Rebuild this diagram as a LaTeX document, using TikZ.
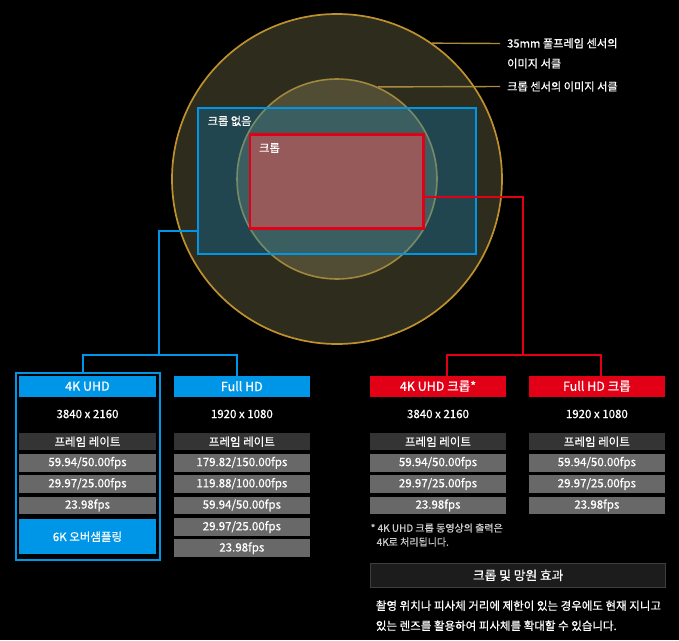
\documentclass[tikz,border=0pt]{standalone}
\usepackage{fontspec}
\setmainfont{Noto Sans CJK KR}[FakeBold=0.6]
\begin{document}
\begin{tikzpicture}[x=1pt,y=-1pt,
  fs/.style={font=\fontsize{#1}{#1}\selectfont},
  gold/.style={draw={rgb,255:red,190;green,145;blue,45}},
  hdr/.style={minimum width=136.4pt,minimum height=21pt,inner sep=0pt,text=white,fs=12.5},
  hblue/.style={hdr,fill=skyb},
  hred/.style={hdr,fill=crimson},
  res/.style={text=white,fs=11.5,inner sep=0pt},
  frate/.style={minimum width=136.4pt,minimum height=16.7pt,inner sep=0pt,fill={rgb,255:red,52;green,52;blue,52},text=white,fs=11.5},
  fps/.style={minimum width=136.4pt,minimum height=17.5pt,inner sep=0pt,fill={rgb,255:red,104;green,104;blue,104},text=white,fs=11.5},
  lbl/.style={text=white,fs=11.2,inner sep=0pt,anchor=west},
  bconn/.style={draw=skyb,line width=2pt},
  rconn/.style={draw=crimson,line width=2pt},
  lead/.style={draw={rgb,255:red,170;green,138;blue,60},line width=1.4pt},
]
\definecolor{skyb}{RGB}{0,150,232}
\definecolor{crimson}{RGB}{225,0,22}
\useasboundingbox[fill=black] (0,0) rectangle (679,640);

% circles
\node[circle,gold,line width=1.7pt,fill={rgb,255:red,46;green,44;blue,29},minimum size=330pt,inner sep=0pt] (outer) at (337,179) {};
\node[circle,draw={rgb,255:red,160;green,135;blue,62},line width=1.6pt,fill={rgb,255:red,80;green,77;blue,52},minimum size=200pt,inner sep=0pt] (inner) at (337,179) {};

% blue rect (no crop)
\node[draw=skyb,line width=2.6pt,fill=skyb,fill opacity=0.25,draw opacity=1,minimum width=278pt,minimum height=146pt,inner sep=0pt] (blue) at (337,181) {};
% red rect (crop)
\node[draw=crimson,line width=2.6pt,fill={rgb,255:red,150;green,90;blue,90},minimum width=173.3pt,minimum height=94pt,inner sep=0pt] (red) at (336.7,181.3) {};

\node[lbl] (tnocrop) at (207.5,121) {크롭 없음};
\node[lbl] (tcrop) at (259,148) {크롭};

% leader labels
\coordinate (l1) at (500,43.5);
\coordinate (l2) at (500,86.5);
\draw[lead] (outer.55.6) -- (l1);
\draw[lead] (inner.66.7) -- (l2);
\node[lbl] (t35a) at (507,43.3) {35mm 풀프레임 센서의};
\node[lbl] (t35b) at (507,63.5) {이미지 서클};
\node[lbl] (tcs) at (507,86.5) {크롭 센서의 이미지 서클};

% column frame
\node[draw=skyb,line width=2pt,minimum width=144pt,minimum height=187pt,inner sep=0pt] (frame) at (88,372) [anchor=north] {};

% headers
\node[hblue] (h1) at (87.5,386.2) {4K UHD};
\node[hblue] (h2) at (241.85,386.2) {Full HD};
\node[hred] (h3) at (438,386.2) {4K UHD 크롭*};
\node[hred] (h4) at (596.85,386.2) {Full HD 크롭};

% blue connectors
\coordinate (bb) at (159,231);
\coordinate (bj) at (159,355);
\coordinate (bl) at (83,355);
\coordinate (br) at (237,355);
\draw[bconn] (blue.west |- bb) -- (bb) -- (bj);
\draw[bconn] (bl |- frame.north) -- (bl) -- (br) -- (br |- h2.north);

% red connectors
\coordinate (rr) at (523,197);
\coordinate (rj) at (523,355);
\coordinate (rl) at (447,355);
\coordinate (rrr) at (601,355);
\draw[rconn] (red.east |- rr) -- (rr) -- (rj);
\draw[rconn] (rl |- h3.north) -- (rl) -- (rrr) -- (rrr |- h4.north);

% resolutions
\node[res] (r1) at (87.5,414) {3840 x 2160};
\node[res] (r2) at (241.85,414) {1920 x 1080};
\node[res] (r3) at (438,414) {3840 x 2160};
\node[res] (r4) at (596.85,414) {1920 x 1080};

% frame rate headers
\node[frate] (f1) at (87.5,441.7) {프레임 레이트};
\node[frate] (f2) at (241.85,441.7) {프레임 레이트};
\node[frate] (f3) at (438,441.7) {프레임 레이트};
\node[frate] (f4) at (596.85,441.7) {프레임 레이트};

% col 1
\node[fps] (c1a) at (87.5,462.8) {59.94/50.00fps};
\node[fps] (c1b) at (87.5,484) {29.97/25.00fps};
\node[fps] (c1c) at (87.5,505.3) {23.98fps};
\node[minimum width=136.4pt,minimum height=35.3pt,inner sep=0pt,fill=skyb,text=white,fs=11.5] (c1d) at (87.5,536.7) {6K 오버샘플링};
% col 2
\node[fps] (c2a) at (241.85,462.8) {179.82/150.00fps};
\node[fps] (c2b) at (241.85,484) {119.88/100.00fps};
\node[fps] (c2c) at (241.85,505.3) {59.94/50.00fps};
\node[fps] (c2d) at (241.85,527) {29.97/25.00fps};
\node[fps] (c2e) at (241.85,548.2) {23.98fps};
% col 3
\node[fps] (c3a) at (438,462.8) {59.94/50.00fps};
\node[fps] (c3b) at (438,484) {29.97/25.00fps};
\node[fps] (c3c) at (438,505.3) {23.98fps};
% col 4
\node[fps] (c4a) at (596.85,462.8) {59.94/50.00fps};
\node[fps] (c4b) at (596.85,484) {29.97/25.00fps};
\node[fps] (c4c) at (596.85,505.3) {23.98fps};

% footnote
\node[anchor=west,inner sep=0pt,text={rgb,255:red,205;green,205;blue,205},fs=10] (fn1) at (370.5,528) {* 4K UHD 크롭 동영상의 출력은};
\node[anchor=west,inner sep=0pt,text={rgb,255:red,205;green,205;blue,205},fs=10] (fn2) at (376.5,542) {4K로 처리됩니다.};

% bottom
\node[draw={rgb,255:red,62;green,62;blue,62},line width=0.8pt,fill={rgb,255:red,28;green,28;blue,28},minimum width=295pt,minimum height=24pt,inner sep=0pt,text=white,fs=12.7] (eff) at (518.2,575.3) {크롭 및 망원 효과};
\node[anchor=west,inner sep=0pt,text=white,fs=11.5] (p1) at (375.7,605.7) {촬영 위치나 피사체 거리에 제한이 있는 경우에도 현재 지니고};
\node[anchor=west,inner sep=0pt,text=white,fs=11.5] (p2) at (375.7,625.7) {있는 렌즈를 활용하여 피사체를 확대할 수 있습니다.};
\end{tikzpicture}
\end{document}
